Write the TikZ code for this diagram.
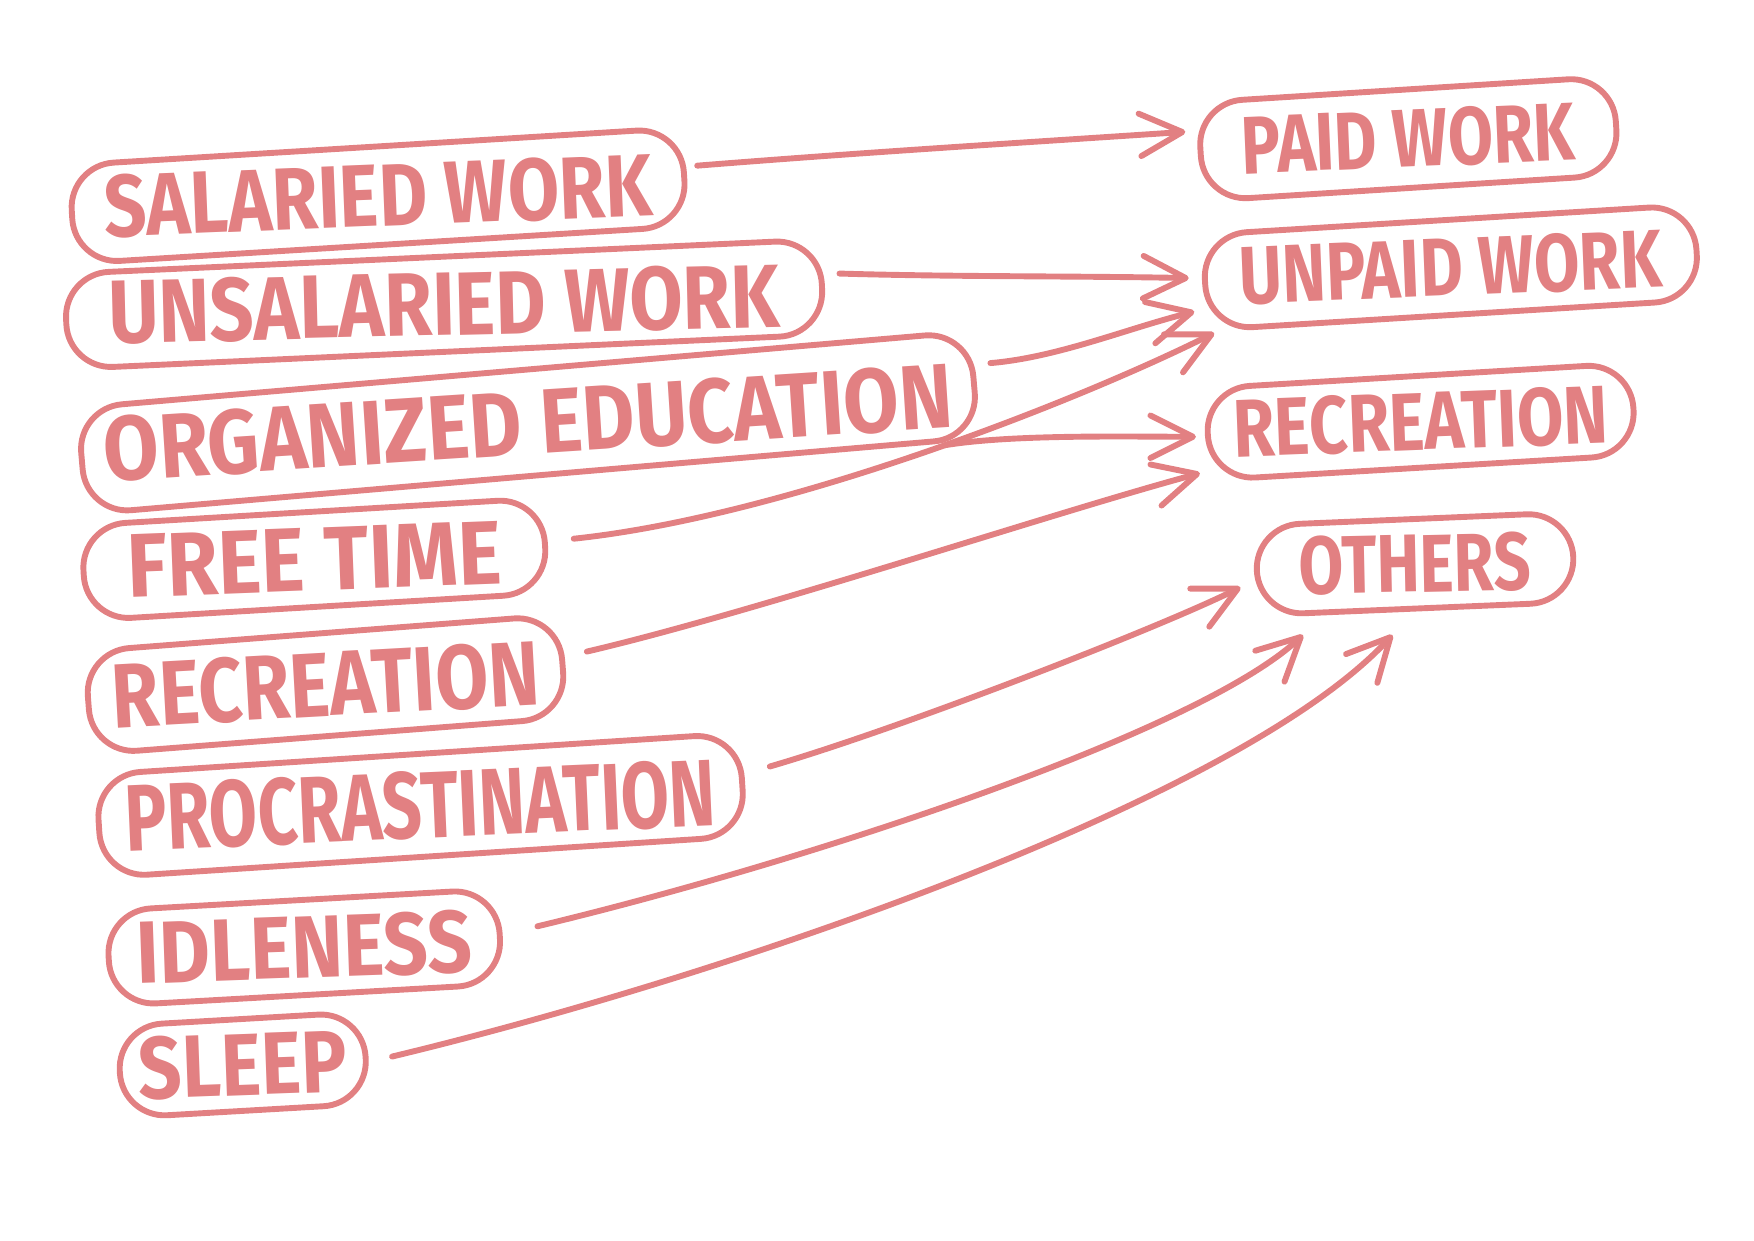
\documentclass[tikz,border=0pt]{standalone}
\usepackage{fontspec}
\setmainfont{Fira Sans}
\usepackage{graphicx}
\usetikzlibrary{arrows.meta,calc}
\definecolor{pk}{RGB}{226,128,130}
\newcommand{\hand}[3]{\rotatebox{-1.2}{\resizebox{#1cm}{#2cm}{\bfseries #3}}}
\begin{document}
\begin{tikzpicture}[x=0.01cm,y=-0.01cm,
  box/.style={draw=pk, line width=1.5pt, rounded corners=0.4cm, inner sep=0pt, text=pk},
  conn/.style={draw=pk, line width=1.5pt, line cap=round, line join=round,
    -{Straight Barb[length=0.38cm,width=0.38cm,round]}}]
\useasboundingbox (0,0) rectangle (1568,1109);
% left column
\node[box, minimum width=5.48cm, minimum height=0.88cm, rotate=3.5] (sal) at (338,175) {\hand{4.90}{0.56}{SALARIED WORK}};
\node[box, minimum width=6.76cm, minimum height=0.85cm, rotate=2.6] (uns) at (397,272) {\hand{6.00}{0.57}{UNSALARIED WORK}};
\node[box, minimum width=8.00cm, minimum height=0.95cm, rotate=4.9] (org) at (472,378) {\hand{7.60}{0.58}{ORGANIZED EDUCATION}};
\node[box, minimum width=4.13cm, minimum height=0.85cm, rotate=3.4] (free) at (281,500) {\hand{3.35}{0.56}{FREE TIME}};
\node[box, minimum width=4.25cm, minimum height=0.92cm, rotate=4.4] (recl) at (291,612) {\hand{3.82}{0.58}{RECREATION}};
\node[box, minimum width=5.76cm, minimum height=0.92cm, rotate=3.7] (proc) at (376,720) {\hand{5.28}{0.60}{PROCRASTINATION}};
\node[box, minimum width=3.50cm, minimum height=0.85cm, rotate=3.2] (idle) at (272,847) {\hand{3.00}{0.56}{IDLENESS}};
\node[box, minimum width=2.20cm, minimum height=0.82cm, rotate=3.3] (sleep) at (217,952) {\hand{1.86}{0.56}{SLEEP}};
% right column
\node[box, minimum width=3.72cm, minimum height=0.88cm, rotate=3.6] (paid) at (1259,124) {\hand{2.98}{0.52}{PAID WORK}};
\node[box, minimum width=4.40cm, minimum height=0.85cm, rotate=3.5] (unp) at (1297,239) {\hand{3.78}{0.52}{UNPAID WORK}};
\node[box, minimum width=3.81cm, minimum height=0.82cm, rotate=3.4] (recr) at (1270,377) {\hand{3.35}{0.52}{RECREATION}};
\node[box, minimum width=2.83cm, minimum height=0.80cm, rotate=2.4] (oth) at (1265,504) {\hand{2.07}{0.52}{OTHERS}};
% connectors
\draw[conn] ($(sal.east)+(9,-10)$) .. controls +(150,-12) and +(-150,10) .. ($(paid.west)+(-11,-18)$);
\draw[conn] ($(uns.east)+(13,-12)$) .. controls +(100,3) and +(-100,-2) .. ($(unp.west)+(-12,-4)$);
\draw[conn] ($(org.east)+(12,-19)$) .. controls +(60,-5) and +(-60,15) .. ($(unp.west)+(-7,26)$);
\draw[conn] ($(free.east)+(23,-6)$) .. controls +(190,-20) and +(-120,60) .. coordinate[pos=0.53] (ft) ($(unp.south west)+(8,0)$);
\draw[conn] (ft) .. controls +(60,-10) and +(-60,0) .. ($(recr.west)+(-8,2)$);
\draw[conn] ($(recl.east)+(19,-13)$) .. controls +(150,-35) and +(-130,35) .. ($(recr.south west)+(-7,-9)$);
\draw[conn] ($(proc.east)+(22,-16)$) .. controls +(120,-35) and +(-70,35) .. ($(oth.west)+(-12,15)$);
\draw[conn] ($(idle.east)+(31,-9)$) .. controls +(250,-60) and +(-90,85) .. ($(oth.south)+(-102,21)$);
\draw[conn] ($(sleep.east)+(21,-1)$) .. controls +(300,-72) and +(-135,147) .. ($(oth.south)+(-22,21)$);
\end{tikzpicture}
\end{document}
